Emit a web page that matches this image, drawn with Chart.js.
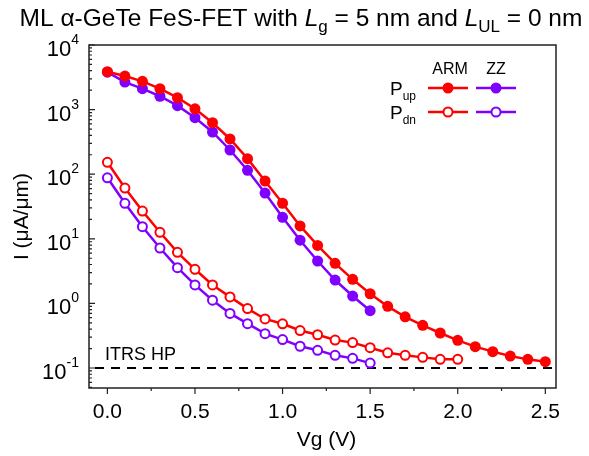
<!DOCTYPE html>
<html>
<head>
<meta charset="utf-8">
<script src="https://cdn.jsdelivr.net/npm/chart.js@4/dist/chart.umd.min.js"></script>
<style>
html,body{margin:0;padding:0;background:#fff;}
#wrap{width:589px;height:456px;position:relative;}
</style>
</head>
<body>
<div id="wrap"><canvas id="c" width="589" height="456"></canvas></div>
<script>
// ---- data ----
const vArmUp = [0,0.1,0.2,0.3,0.4,0.5,0.6,0.7,0.8,0.9,1.0,1.1,1.2,1.3,1.4,1.5,1.6,1.7,1.8,1.9,2.0,2.1,2.2,2.3,2.4,2.5];
const iArmUp = [3860,3310,2740,2110,1530,1030,627,351,174,78.5,35.5,15.8,7.9,4.17,2.36,1.41,0.90,0.62,0.458,0.348,0.268,0.214,0.179,0.153,0.136,0.125];
const vZzUp = [0,0.1,0.2,0.3,0.4,0.5,0.6,0.7,0.8,0.9,1.0,1.1,1.2,1.3,1.4,1.5];
const iZzUp = [3800,2670,2110,1610,1150,750,450,237,115,51,21.5,9.5,4.53,2.30,1.30,0.77];
const vArmDn = [0,0.1,0.2,0.3,0.4,0.5,0.6,0.7,0.8,0.9,1.0,1.1,1.2,1.3,1.4,1.5,1.6,1.7,1.8,1.9,2.0];
const iArmDn = [153,61,26.9,12.6,6.18,3.37,1.93,1.26,0.83,0.574,0.483,0.38,0.327,0.271,0.247,0.206,0.172,0.157,0.146,0.136,0.136];
const vZzDn = [0,0.1,0.2,0.3,0.4,0.5,0.6,0.7,0.8,0.9,1.0,1.1,1.2,1.3,1.4,1.5];
const iZzDn = [88,35.4,15.4,7.2,3.57,1.93,1.12,0.70,0.485,0.34,0.275,0.217,0.188,0.157,0.141,0.119];
const itrsHP = 0.1;
const xTicks = [0,0.5,1.0,1.5,2.0,2.5];
const xTickLabels = ['0.0','0.5','1.0','1.5','2.0','2.5'];
const xMinorTicks = [0.25,0.75,1.25,1.75,2.25];
const yDecades = [-1,0,1,2,3,4];

const RED = '#ff0000';
const PURPLE = '#7f00ff';
const FONT = '"Liberation Sans", Arial, sans-serif';

function pts(xs, ys){ return xs.map((x,i)=>({x:x,y:ys[i]})); }

function ds(label, xs, ys, color, filled){
  return {
    label: label,
    data: pts(xs, ys),
    borderColor: color,
    backgroundColor: filled ? color : '#ffffff',
    pointBackgroundColor: filled ? color : '#ffffff',
    pointBorderColor: color,
    pointBorderWidth: filled ? 0 : 2,
    pointRadius: filled ? 5.5 : 4.5,
    pointHoverRadius: filled ? 5.5 : 4.5,
    borderWidth: 2.5,
    tension: 0,
    fill: false,
    showLine: true
  };
}

function drawRich(ctx, parts, x, y, align){
  let w = 0;
  parts.forEach(p=>{ ctx.font = p.font; p.w = ctx.measureText(p.t).width; w += p.w; });
  let cx = align === 'center' ? x - w/2 : (align === 'right' ? x - w : x);
  ctx.textAlign = 'left';
  ctx.textBaseline = 'alphabetic';
  parts.forEach(p=>{ ctx.font = p.font; ctx.fillText(p.t, cx, y + (p.dy||0)); cx += p.w; });
}

const decor = {
  id: 'decor',
  beforeDatasetsDraw(chart){
    const ctx = chart.ctx, a = chart.chartArea, ys = chart.scales.y;
    const yy = ys.getPixelForValue(itrsHP);
    ctx.save();
    ctx.strokeStyle = '#000';
    ctx.lineWidth = 2;
    ctx.setLineDash([9,7]);
    ctx.beginPath(); ctx.moveTo(a.left+6, yy); ctx.lineTo(a.right-4, yy); ctx.stroke();
    ctx.setLineDash([]);
    ctx.fillStyle = '#000';
    ctx.font = '18px ' + FONT;
    ctx.textAlign = 'left'; ctx.textBaseline = 'alphabetic';
    ctx.fillText('ITRS HP', a.left + 16, yy - 8);
    ctx.restore();
  },
  afterDraw(chart){
    const ctx = chart.ctx, a = chart.chartArea, xs = chart.scales.x, ys = chart.scales.y;
    ctx.save();
    // frame
    ctx.strokeStyle = '#222';
    ctx.lineWidth = 1.5;
    ctx.strokeRect(a.left, a.top, a.right - a.left, a.bottom - a.top);
    // x ticks
    ctx.lineWidth = 1.2;
    ctx.beginPath();
    xTicks.forEach(v=>{ const px = xs.getPixelForValue(v); ctx.moveTo(px, a.bottom); ctx.lineTo(px, a.bottom + 6); });
    xMinorTicks.forEach(v=>{ const px = xs.getPixelForValue(v); ctx.moveTo(px, a.bottom); ctx.lineTo(px, a.bottom + 3); });
    // y ticks (inward)
    yDecades.forEach(d=>{
      const py = ys.getPixelForValue(Math.pow(10,d));
      ctx.moveTo(a.left, py); ctx.lineTo(a.left + 6, py);
      for(let m=2;m<=9;m++){
        const v = m*Math.pow(10,d);
        if (v > ys.max || v < ys.min) continue;
        const q = ys.getPixelForValue(v);
        ctx.moveTo(a.left, q); ctx.lineTo(a.left + 3, q);
      }
    });
    for(let m=5;m<=9;m++){
      const v = m*0.01; if (v < ys.min) continue;
      const q = ys.getPixelForValue(v); ctx.moveTo(a.left, q); ctx.lineTo(a.left + 3, q);
    }
    ctx.stroke();
    ctx.fillStyle = '#000';
    // x tick labels
    ctx.font = '21px ' + FONT;
    ctx.textAlign = 'center'; ctx.textBaseline = 'alphabetic';
    xTicks.forEach((v,i)=>{ ctx.fillText(xTickLabels[i], xs.getPixelForValue(v), a.bottom + 30); });
    // y tick labels with superscripts
    yDecades.forEach(d=>{
      const py = ys.getPixelForValue(Math.pow(10,d));
      ctx.font = '14px ' + FONT;
      const ew = ctx.measureText(String(d)).width;
      ctx.textAlign = 'left';
      ctx.fillText(String(d), 79 - ew + 0, py - 1);
      ctx.font = '22px ' + FONT;
      ctx.textAlign = 'right';
      ctx.fillText('10', 79 - ew, py + 11);
    });
    // axis titles
    ctx.font = '21px ' + FONT;
    ctx.textAlign = 'center';
    ctx.fillText('Vg (V)', (a.left + a.right)/2 + 4, 446);
    ctx.save();
    ctx.translate(28, (a.top + a.bottom)/2);
    ctx.rotate(-Math.PI/2);
    ctx.fillText('I (\u03bcA/\u03bcm)', 0, 0);
    ctx.restore();
    // title
    const N = '24.5px ' + FONT, I = 'italic 24.5px ' + FONT, S = '17px ' + FONT;
    drawRich(ctx, [
      {t:'ML \u03b1-GeTe FeS-FET with ', font:N},
      {t:'L', font:I}, {t:'g', font:S, dy:6},
      {t:' = 5 nm and ', font:N},
      {t:'L', font:I}, {t:'UL', font:S, dy:6},
      {t:' = 0 nm', font:N}
    ], 301, 26, 'center');
    // legend
    ctx.font = '16px ' + FONT;
    ctx.textAlign = 'center';
    ctx.fillText('ARM', 450, 74);
    ctx.fillText('ZZ', 496, 74);
    drawRich(ctx, [{t:'P', font:'19px ' + FONT}, {t:'up', font:'12px ' + FONT, dy:5}], 390, 95, 'left');
    drawRich(ctx, [{t:'P', font:'19px ' + FONT}, {t:'dn', font:'12px ' + FONT, dy:5}], 390, 119, 'left');
    const rows = [[88, true],[112, false]];
    rows.forEach(r=>{
      [[428,468,448,RED],[476,516,496,PURPLE]].forEach(c=>{
        ctx.strokeStyle = c[3]; ctx.lineWidth = 2.5;
        ctx.beginPath(); ctx.moveTo(c[0], r[0]); ctx.lineTo(c[1], r[0]); ctx.stroke();
        ctx.beginPath(); ctx.arc(c[2], r[0], r[1] ? 5.5 : 4.5, 0, Math.PI*2);
        if (r[1]) { ctx.fillStyle = c[3]; ctx.fill(); }
        else { ctx.fillStyle = '#fff'; ctx.fill(); ctx.lineWidth = 2; ctx.stroke(); }
      });
    });
    ctx.restore();
  }
};

new Chart(document.getElementById('c'), {
  type: 'line',
  data: {
    datasets: [
      ds('ARM Pup', vArmUp, iArmUp, RED, true),
      ds('ARM Pdn', vArmDn, iArmDn, RED, false),
      ds('ZZ Pup', vZzUp, iZzUp, PURPLE, true),
      ds('ZZ Pdn', vZzDn, iZzDn, PURPLE, false)
    ]
  },
  options: {
    responsive: false,
    animation: false,
    devicePixelRatio: 1,
    layout: { padding: { left: 89, right: 33, top: 45, bottom: 68 } },
    plugins: { legend: { display: false }, tooltip: { enabled: false }, title: { display: false } },
    scales: {
      x: { type: 'linear', display: false, min: -0.105, max: 2.561 },
      y: { type: 'logarithmic', display: false, min: 0.049, max: 10000 }
    }
  },
  plugins: [decor]
});
</script>
</body>
</html>
